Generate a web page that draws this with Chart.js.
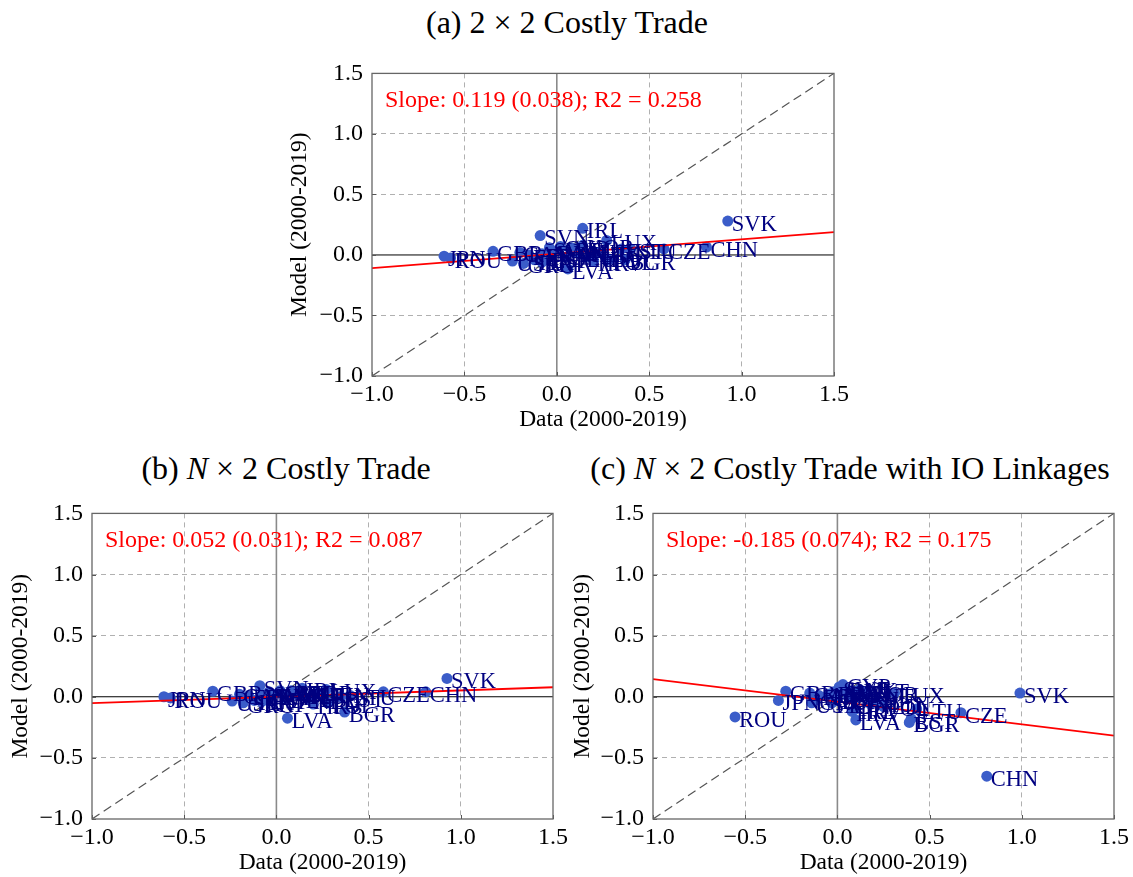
<!DOCTYPE html>
<html>
<head>
<meta charset="utf-8">
<script src="https://cdn.jsdelivr.net/npm/chart.js@4.4.1/dist/chart.umd.min.js"></script>
<style>
  html, body { margin: 0; padding: 0; background: #fff; }
  body { width: 1133px; height: 877px; position: relative; overflow: hidden; font-family: 'Liberation Serif', serif; }
  .wrap { position: absolute; }
  .ttl { position: absolute; font-family: 'Liberation Serif', serif; font-size: 32px; color: #000; white-space: nowrap; transform: translate(-50%, -50%); }
</style>
</head>
<body>
<div class="ttl" id="t0">(a) 2 × 2 Costly Trade</div>
<div class="ttl" id="t1">(b) <i>N</i> × 2 Costly Trade</div>
<div class="ttl" id="t2">(c) <i>N</i> × 2 Costly Trade with IO Linkages</div>
<div class="wrap" id="w0"><canvas id="c0"></canvas></div>
<div class="wrap" id="w1"><canvas id="c1"></canvas></div>
<div class="wrap" id="w2"><canvas id="c2"></canvas></div>
<script>
// ---------------- DATA ----------------
const countries = ['JPN','ROU','GBR','USA','SVN','IRL','LUX','EST','LTU','CZE','CHN','SVK','LVA','BGR','POL','HUN','CYP','MLT','ESP','ITA','FRA','DEU','AUT','BEL','NLD','DNK','FIN','SWE','PRT','GRC','HRV','KOR','CAN'];
// Data (2000-2019) used in panels (a) and (b)
const dataAB = [-0.61,-0.575,-0.345,-0.24,-0.09,0.14,0.27,0.35,0.40,0.58,0.81,0.925,0.06,0.37,0.28,0.22,0.02,0.10,-0.05,-0.12,-0.08,0.05,0.12,0.08,0.18,-0.02,-0.15,-0.04,-0.08,-0.18,0.20,0.14,-0.20];
// Model (2000-2019), panel (a)
const modelA = [-0.01,-0.025,0.03,-0.05,0.16,0.22,0.12,0.05,0.05,0.05,0.065,0.28,-0.115,-0.04,-0.04,0.02,0.07,0.02,-0.03,-0.04,0.01,-0.02,0.04,0.06,-0.02,0.03,0.00,0.06,-0.06,-0.07,-0.05,0.08,0.02];
// Model (2000-2019), panel (b)
const modelB = [0.00,-0.01,0.045,-0.035,0.09,0.07,0.06,0.00,0.01,0.04,0.04,0.15,-0.175,-0.125,-0.05,0.03,0.05,0.02,-0.02,-0.03,0.01,-0.01,0.03,0.05,-0.02,0.02,0.01,0.04,-0.04,-0.05,-0.06,0.05,0.02];
// Data (2000-2019) used in panel (c)
const dataC = [-0.32,-0.555,-0.28,-0.14,0.02,0.10,0.31,0.40,0.43,0.67,0.81,0.99,0.10,0.39,0.25,0.22,0.03,0.12,0.00,-0.05,-0.02,0.06,0.14,0.08,0.18,0.04,-0.10,0.01,-0.03,-0.12,0.08,0.16,-0.15];
// Model (2000-2019), panel (c)
const modelC = [-0.03,-0.165,0.045,-0.05,0.05,-0.10,0.03,-0.18,-0.10,-0.13,-0.65,0.03,-0.19,-0.21,-0.08,-0.04,0.10,0.06,-0.02,0.02,0.04,0.00,0.02,0.05,-0.06,0.07,0.01,0.08,-0.05,-0.03,-0.12,0.04,0.03];
// Fitted lines
const slopes = [0.119, 0.052, -0.185];
const intercepts = [0.010, 0.000, -0.041];
const fitTexts = ['Slope: 0.119 (0.038); R2 = 0.258','Slope: 0.052 (0.031); R2 = 0.087','Slope: -0.185 (0.074); R2 = 0.175'];
// Axis
const tickValues = [-1.0, -0.5, 0.0, 0.5, 1.0, 1.5];
const axisMin = -1.0, axisMax = 1.5;
const xTitle = 'Data (2000-2019)';
const yTitle = 'Model (2000-2019)';

// ---------------- LAYOUT ----------------
const panels = [
  {left:270, top:50,  w:600, h:390, pad:{left:0, top:21, right:36, bottom:0}, yW:102, xH:64, yTitlePad:18, xTitlePad:8,
   title:{x:567, y:22}, xs:dataAB, ys:modelA},
  {left:0,   top:490, w:580, h:387, pad:{left:0, top:23, right:27, bottom:0}, yW:92, xH:58, yTitlePad:9, xTitlePad:2,
   title:{x:286, y:468}, xs:dataAB, ys:modelB},
  {left:560, top:490, w:573, h:387, pad:{left:0, top:23, right:18, bottom:0}, yW:93, xH:58, yTitlePad:11, xTitlePad:2,
   title:{x:850, y:468}, xs:dataC, ys:modelC}
];

const FONT = "'Liberation Serif', serif";
const fmt = v => (v < -1e-9 ? '\u2212' : '') + Math.abs(v).toFixed(1);
const gridColor = c => {
  const v = c.tick ? c.tick.value : null;
  if (v === null || Math.abs(v) < 1e-9 || Math.abs(v - axisMin) < 1e-9 || Math.abs(v - axisMax) < 1e-9) return 'rgba(0,0,0,0)';
  return '#b0b0b0';
};

const decorPlugin = {
  id: 'decor',
  afterDatasetsDraw(chart, args, opts) {
    const ctx = chart.ctx, a = chart.chartArea;
    const xs = chart.scales.x, ys = chart.scales.y;
    ctx.save();
    // inward ticks
    ctx.strokeStyle = '#555'; ctx.lineWidth = 1;
    tickValues.forEach(v => {
      const px = Math.round(xs.getPixelForValue(v)) + 0.5;
      ctx.beginPath(); ctx.moveTo(px, a.bottom); ctx.lineTo(px, a.bottom - 4); ctx.stroke();
      const py = Math.round(ys.getPixelForValue(v)) + 0.5;
      ctx.beginPath(); ctx.moveTo(a.left, py); ctx.lineTo(a.left + 4, py); ctx.stroke();
    });
    // frame
    ctx.strokeStyle = '#666'; ctx.lineWidth = 1.3;
    ctx.strokeRect(a.left, a.top, a.right - a.left, a.bottom - a.top);
    // country labels
    const meta = chart.getDatasetMeta(opts.scatterIndex);
    ctx.fillStyle = '#000080';
    ctx.font = "22.5px " + FONT;
    ctx.textAlign = 'left'; ctx.textBaseline = 'middle';
    meta.data.forEach((el, i) => {
      ctx.fillText(countries[i], el.x + 4, el.y + 4);
    });
    // fit text
    ctx.fillStyle = '#ff0000';
    ctx.font = "24px " + FONT;
    ctx.fillText(opts.fitText, a.left + 13, a.top + 27);
    ctx.restore();
  }
};

panels.forEach((p, k) => {
  const w = document.getElementById('w' + k);
  w.style.left = p.left + 'px'; w.style.top = p.top + 'px';
  w.style.width = p.w + 'px'; w.style.height = p.h + 'px';
  const t = document.getElementById('t' + k);
  t.style.left = p.title.x + 'px'; t.style.top = p.title.y + 'px';

  const pts = p.xs.map((x, i) => ({x: x, y: p.ys[i]}));
  const fit = [axisMin, axisMax].map(x => ({x: x, y: intercepts[k] + slopes[k] * x}));

  new Chart(document.getElementById('c' + k), {
    type: 'scatter',
    data: {
      datasets: [
        {data: pts, pointRadius: 5.5, pointHoverRadius: 5.5, backgroundColor: '#3b5dc9', borderColor: '#3b5dc9', borderWidth: 0, order: 2},
        {data: fit, showLine: true, pointRadius: 0, borderColor: '#ff0000', borderWidth: 1.8, order: 1},
        {data: [{x: axisMin, y: axisMin}, {x: axisMax, y: axisMax}], showLine: true, pointRadius: 0, borderColor: '#555', borderWidth: 1.2, borderDash: [9, 5], order: 3},
        {data: [{x: 0, y: axisMin}, {x: 0, y: axisMax}], showLine: true, pointRadius: 0, borderColor: '#8a8a8a', borderWidth: 1.6, order: 4},
        {data: [{x: axisMin, y: 0}, {x: axisMax, y: 0}], showLine: true, pointRadius: 0, borderColor: '#000', borderWidth: 1, order: 4}
      ]
    },
    options: {
      responsive: true, maintainAspectRatio: false, animation: false,
      devicePixelRatio: 1,
      layout: {padding: p.pad},
      plugins: {legend: {display: false}, tooltip: {enabled: false},
        decor: {scatterIndex: 0, fitText: fitTexts[k]}},
      events: [],
      scales: {
        x: {
          type: 'linear', min: axisMin, max: axisMax,
          afterBuildTicks: s => { s.ticks = tickValues.map(v => ({value: v})); },
          afterFit: s => { s.height = p.xH; },
          ticks: {callback: v => fmt(v), color: '#000', font: {family: FONT, size: 24}, padding: 4, maxRotation: 0, autoSkip: false},
          grid: {color: gridColor, lineWidth: 1, drawTicks: false},
          border: {display: false, dash: [5, 4]},
          title: {display: true, text: xTitle, color: '#000', font: {family: FONT, size: 23.5, lineHeight: 1}, padding: {top: 0, bottom: p.xTitlePad}}
        },
        y: {
          type: 'linear', min: axisMin, max: axisMax,
          afterBuildTicks: s => { s.ticks = tickValues.map(v => ({value: v})); },
          afterFit: s => { s.width = p.yW; },
          ticks: {callback: v => fmt(v), color: '#000', font: {family: FONT, size: 24}, padding: 9, autoSkip: false},
          grid: {color: gridColor, lineWidth: 1, drawTicks: false},
          border: {display: false, dash: [5, 4]},
          title: {display: true, text: yTitle, color: '#000', font: {family: FONT, size: 23.5, lineHeight: 1}, padding: {top: p.yTitlePad, bottom: 0}}
        }
      }
    },
    plugins: [decorPlugin]
  });
});
</script>
</body>
</html>
